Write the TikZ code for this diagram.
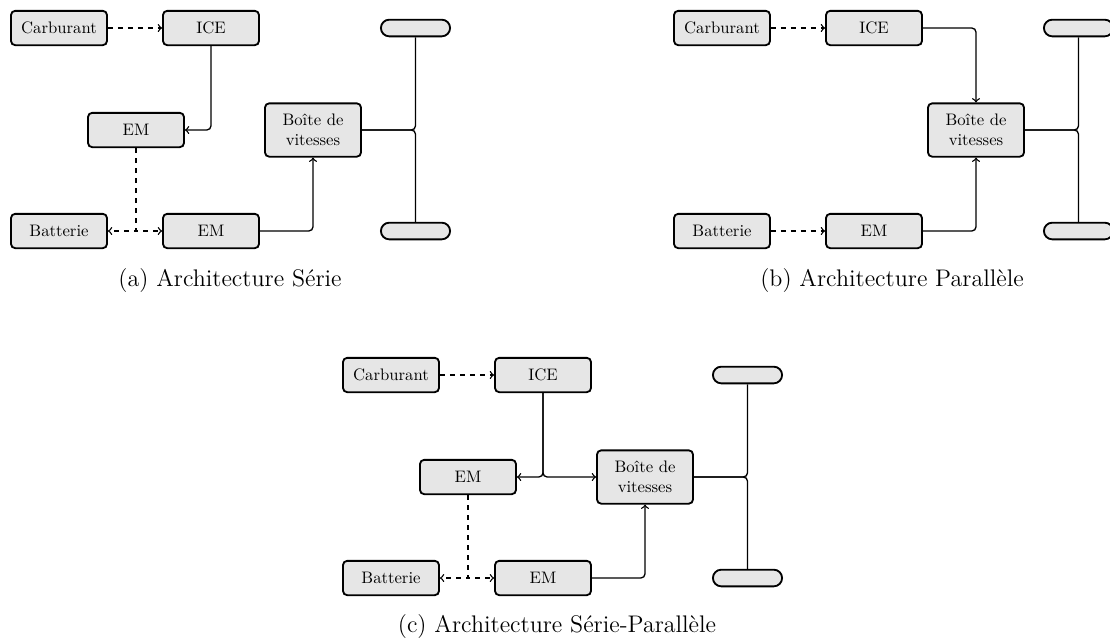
\documentclass[tikz,border=0pt]{standalone}
\usepackage{tikz}
\usetikzlibrary{calc}
\definecolor{boxfill}{RGB}{230, 230, 230}

\tikzset{
  bloc/.style={draw, fill=boxfill, rounded corners=2.5pt, line width=1.1pt,
    minimum width=57.6pt, minimum height=20.6pt, inner sep=1pt, align=center},
  boite/.style={bloc, minimum height=32pt},
  roue/.style={draw, fill=boxfill, rounded corners=5pt, line width=1.1pt,
    minimum width=41.5pt, minimum height=10pt, inner sep=0pt},
  flux/.style={->, line width=0.8pt, rounded corners=2.5pt},
  energie/.style={->, line width=0.8pt, dashed},
  arbre/.style={line width=0.8pt, rounded corners=2.5pt},
  legende/.style={font=\Large, anchor=base}
}

\begin{document}
\begin{tikzpicture}[x=0.6pt, y=-0.6pt]

  \useasboundingbox (0, 0) rectangle (1110, 637);

  % (a) serie
  \begin{scope}
    \node[bloc] (a-carb) at (59, 28) {Carburant};
    \node[bloc] (a-ice) at (211, 28) {ICE};
    \node[bloc] (a-em1) at (136, 130) {EM};
    \node[boite] (a-bv) at (313, 130) {Bo\^ite de\\vitesses};
    \node[bloc] (a-batt) at (59, 231) {Batterie};
    \node[bloc] (a-em2) at (211, 231) {EM};
    \node[roue] (a-rh) at (415.5, 28) {};
    \node[roue] (a-rb) at (415.5, 231) {};

    \draw[energie] (a-carb) -- (a-ice);
    \draw[flux] (a-ice.south) |- (a-em1.east);
    \draw[energie] (a-em1.south) |- (a-batt.east);
    \draw[energie] (a-em1.south) |- (a-em2.west);
    \draw[flux] (a-em2.east) -| (a-bv.south);
    \draw[arbre] (a-bv.east) -| (a-rh.south);
    \draw[arbre] (a-bv.east) -| (a-rb.north);

    \node[legende] (a-leg) at (230, 286) {(a) Architecture S\'erie};
  \end{scope}

  % (b) parallele
  \begin{scope}[shift={(663, 0)}]
    \node[bloc] (b-carb) at (59, 28) {Carburant};
    \node[bloc] (b-ice) at (211, 28) {ICE};
    \node[boite] (b-bv) at (313, 130) {Bo\^ite de\\vitesses};
    \node[bloc] (b-batt) at (59, 231) {Batterie};
    \node[bloc] (b-em2) at (211, 231) {EM};
    \node[roue] (b-rh) at (415.5, 28) {};
    \node[roue] (b-rb) at (415.5, 231) {};

    \draw[energie] (b-carb) -- (b-ice);
    \draw[flux] (b-ice.east) -| (b-bv.north);
    \draw[energie] (b-batt) -- (b-em2);
    \draw[flux] (b-em2.east) -| (b-bv.south);
    \draw[arbre] (b-bv.east) -| (b-rh.south);
    \draw[arbre] (b-bv.east) -| (b-rb.north);

    \node[legende] (b-leg) at (229, 286) {(b) Architecture Parall\`ele};
  \end{scope}

  % (c) serie-parallele
  \begin{scope}[shift={(332, 347)}]
    \node[bloc] (c-carb) at (59, 28) {Carburant};
    \node[bloc] (c-ice) at (211, 28) {ICE};
    \node[bloc] (c-em1) at (136, 130) {EM};
    \node[boite] (c-bv) at (313, 130) {Bo\^ite de\\vitesses};
    \node[bloc] (c-batt) at (59, 231) {Batterie};
    \node[bloc] (c-em2) at (211, 231) {EM};
    \node[roue] (c-rh) at (415.5, 28) {};
    \node[roue] (c-rb) at (415.5, 231) {};

    \draw[energie] (c-carb) -- (c-ice);
    \draw[flux] (c-ice.south) |- (c-em1.east);
    \draw[flux] (c-ice.south) |- (c-bv.west);
    \draw[energie] (c-em1.south) |- (c-batt.east);
    \draw[energie] (c-em1.south) |- (c-em2.west);
    \draw[flux] (c-em2.east) -| (c-bv.south);
    \draw[arbre] (c-bv.east) -| (c-rh.south);
    \draw[arbre] (c-bv.east) -| (c-rb.north);

    \node[legende] (c-leg) at (225, 285) {(c) Architecture S\'erie-Parall\`ele};
  \end{scope}

\end{tikzpicture}
\end{document}
